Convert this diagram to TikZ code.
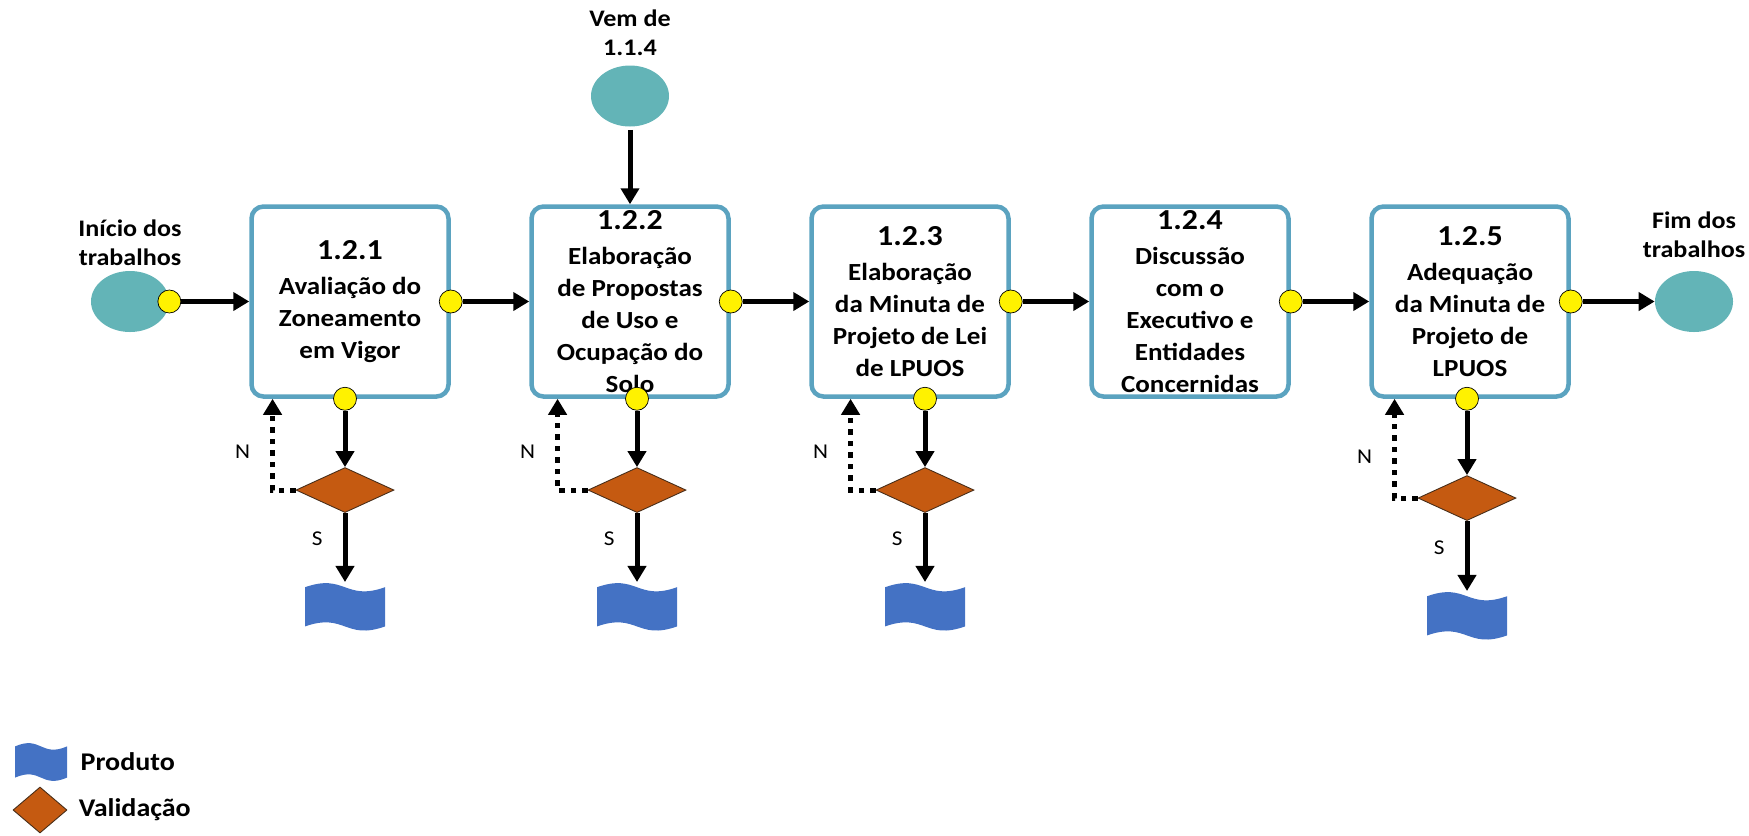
\documentclass[tikz,border=0pt]{standalone}
\usepackage{fontspec}
\setmainfont{Carlito}[FakeStretch=1.1]
\usetikzlibrary{shapes.geometric, arrows.meta, chains, positioning}

\definecolor{boxblue}{RGB}{91,163,192}
\definecolor{termteal}{RGB}{99,180,183}
\definecolor{validorange}{RGB}{197,90,17}
\definecolor{validedge}{RGB}{70,45,25}
\definecolor{prodblue}{RGB}{68,114,196}

\begin{document}
\begin{tikzpicture}[%
	every node/.style={font=\bfseries},
	>={Triangle[length=3.2mm, width=3.6mm]}, % filled heads as in the original
	start chain=going right,   % the five steps run left to right
	node distance=5.6cm,       % centre to centre of the steps
	]
	% -------------------------------------------------
	% Box and connector styles
	% <on grid> must come before <on chain>, else the chain spaces borders
	\tikzset{
		proc/.style={draw=boxblue, line width=0.9mm, rounded corners=2.4mm, fill=white,
			on grid, on chain, align=center, inner sep=0pt,
			minimum width=3.94cm, minimum height=3.8cm,
			font=\fontsize{14}{18.2}\selectfont\bfseries},
		term/.style={ellipse, fill=termteal, inner sep=0pt,
			minimum width=1.56cm, minimum height=1.22cm},
		dot/.style={circle, fill=yellow, draw=black, line width=0.4pt,
			minimum size=4.6mm, inner sep=0pt},
		valid/.style={diamond, fill=validorange, draw=validedge, line width=0.5pt,
			minimum width=1.96cm, minimum height=0.9cm, inner sep=0pt},
		% product sheet: wavy top and bottom, drawn inside the node
		prod/.style 2 args={minimum width=#1, minimum height=#2, inner sep=0pt,
			path picture={\fill[prodblue, x=#1, y=#2]
				(path picture bounding box.south west) ++(0,0.9)
				.. controls +(0.5,0.29) and +(-0.5,-0.29) .. ++(1,0)
				-- ++(0,-0.8)
				.. controls +(-0.5,-0.29) and +(0.5,0.29) .. ++(-1,0) -- cycle;}},
		note/.style={align=center, inner sep=1pt,
			font=\fontsize{13.5}{16.5}\selectfont\bfseries},
		yn/.style={inner sep=0pt, font=\fontsize{12}{14}\selectfont\mdseries},
		legtxt/.style={inner sep=0pt, font=\fontsize{14.5}{16}\selectfont\bfseries},
		flow/.style={->, line width=1mm},
		back/.style={->, line width=1mm, dash pattern=on 1.1mm off 1.2mm}
	}

	\useasboundingbox (0,0) rectangle (34.98,-16.70);

	% the five steps
	\node[proc] (b1) at (7.00,-6.03)
		{{\fontsize{16.5}{18.2}\selectfont 1.2.1}\\[2pt] Avaliação do\\ Zoneamento\\ em Vigor};
	\node[proc] (b2)
		{{\fontsize{16.5}{18.2}\selectfont 1.2.2}\\[2pt] Elaboração\\ de Propostas\\ de Uso e\\ Ocupação do\\ Solo};
	\node[proc] (b3)
		{{\fontsize{16.5}{18.2}\selectfont 1.2.3}\\[2pt] Elaboração\\ da Minuta de\\ Projeto de Lei\\ de LPUOS};
	\node[proc] (b4)
		{{\fontsize{16.5}{18.2}\selectfont 1.2.4}\\[2pt] Discussão\\ com o\\ Executivo e\\ Entidades\\ Concernidas};
	\node[proc] (b5)
		{{\fontsize{16.5}{18.2}\selectfont 1.2.5}\\[2pt] Adequação\\ da Minuta de\\ Projeto de\\ LPUOS};

	% start, entry and end
	\node[term, on grid, left=4.4cm of b1]		(ini)	{};
	\node[note, above=0.05cm of ini]		(initxt) {Início dos\\trabalhos};
	\node[term, on grid, above=4.11cm of b2]	(vem)	{};
	\node[note, above=0.145cm of vem]		(vemtxt) {Vem de\\1.1.4};
	\node[term, on grid, right=4.48cm of b5]	(fim)	{};
	\node[note, above=0.22cm of fim]		(fimtxt) {Fim dos\\trabalhos};

	% output points
	\node[dot] (inid) at (ini.east) {};
	\node[dot] (b1e) at (b1.east) {};
	\node[dot] (b2e) at (b2.east) {};
	\node[dot] (b3e) at (b3.east) {};
	\node[dot] (b4e) at (b4.east) {};
	\node[dot] (b5e) at (b5.east) {};
	\node[dot] (b1s) at ([xshift=-1mm]b1.south) {};
	\node[dot] (b2s) at ([xshift=1.4mm]b2.south) {};
	\node[dot] (b3s) at ([xshift=3mm]b3.south) {};
	\node[dot] (b5s) at ([xshift=-0.6mm]b5.south) {};

	% validation and product
	\node[valid, below=1.13cm of b1s] (v1) {};
	\node[valid, below=1.13cm of b2s] (v2) {};
	\node[valid, below=1.13cm of b3s] (v3) {};
	\node[valid, below=1.29cm of b5s] (v5) {};
	\node[prod={1.6cm}{0.98cm}, below=1.38cm of v1] (p1) {};
	\node[prod={1.6cm}{0.98cm}, below=1.38cm of v2] (p2) {};
	\node[prod={1.6cm}{0.98cm}, below=1.38cm of v3] (p3) {};
	\node[prod={1.6cm}{0.98cm}, below=1.40cm of v5] (p5) {};

	\coordinate[left=4.6mm of v1.west] (n1);
	\coordinate[left=6mm of v2.west] (n2);
	\coordinate[left=5mm of v3.west] (n3);
	\coordinate[left=4.6mm of v5.west] (n5);

	% main flow
	\draw[flow] (inid) -- (b1);
	\draw[flow] (b1e) -- (b2);
	\draw[flow] (b2e) -- (b3);
	\draw[flow] (b3e) -- (b4);
	\draw[flow] (b4e) -- (b5);
	\draw[flow] (b5e) -- (fim);
	\draw[flow, shorten <=0.6mm] (vem) -- (b2);

	% checks
	\draw[flow] (b1s) -- (v1);
	\draw[flow] (v1) -- (p1) node[yn, pos=0.38, left=4mm] {S};
	\draw[back] (v1.west) -- (n1) -- (n1 |- b1.south) node[yn, pos=0.42, left=4mm] {N};
	\draw[flow] (b2s) -- (v2);
	\draw[flow] (v2) -- (p2) node[yn, pos=0.38, left=4mm] {S};
	\draw[back] (v2.west) -- (n2) -- (n2 |- b2.south) node[yn, pos=0.42, left=4mm] {N};
	\draw[flow] (b3s) -- (v3);
	\draw[flow] (v3) -- (p3) node[yn, pos=0.38, left=4mm] {S};
	\draw[back] (v3.west) -- (n3) -- (n3 |- b3.south) node[yn, pos=0.42, left=4mm] {N};
	\draw[flow] (b5s) -- (v5);
	\draw[flow] (v5) -- (p5) node[yn, pos=0.38, left=4mm] {S};
	\draw[back] (v5.west) -- (n5) -- (n5 |- b5.south) node[yn, pos=0.42, left=4mm] {N};

	% legend
	\node[prod={1.04cm}{0.78cm}] (legp) at (0.82,-15.24) {};
	\node[legtxt, right=0.26cm of legp] (legptxt) {Produto};
	\node[valid, minimum width=1.08cm, minimum height=0.92cm] (legv) at (0.80,-16.20) {};
	\node[legtxt, right=0.22cm of legv] (legvtxt) {Validação};
\end{tikzpicture}
\end{document}
